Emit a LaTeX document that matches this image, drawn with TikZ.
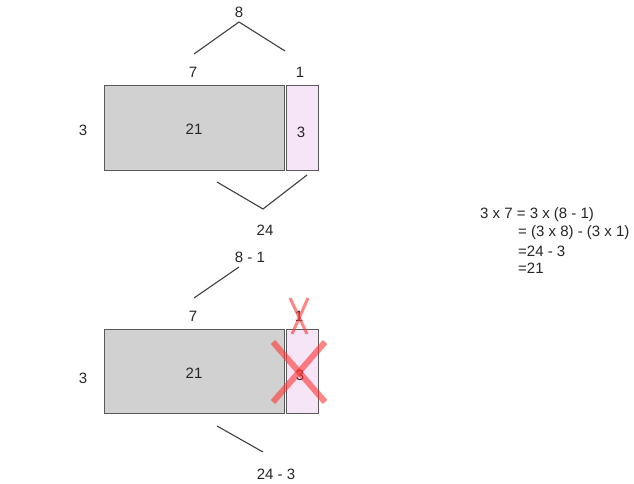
\documentclass[tikz,border=0pt]{standalone}
\usepackage{fontspec}
\setmainfont{Liberation Sans}
\definecolor{pinkfill}{HTML}{F5E5F7}
\begin{document}
\begin{tikzpicture}[x=1pt,y=-1pt,
  lbl/.style={inner sep=0pt, text=black!85, font=\fontsize{15}{17}\selectfont},
  bigbox/.style={draw=black!65, line width=1pt, fill=black!18, minimum width=180pt, minimum height=84pt, inner sep=0pt},
  smallbox/.style={draw=black!65, line width=1pt, fill=pinkfill, minimum width=32pt, minimum height=84pt, inner sep=0pt},
  brace/.style={draw=black!75, line width=1.1pt},
  cross/.style={draw=red!80, opacity=0.6, line width=#1},
]
\useasboundingbox[fill=white] (0,0) rectangle (634,484);

% ---------- top diagram ----------
\node[bigbox] (R1) at (194,128) {};
\node[smallbox] (S1) at (302,128) {};
\node[lbl] (t21a) at (194,129) {21};
\node[lbl] (t3a) at (301,132) {3};
\node[lbl] (l3a) at (83,130) {3};
\node[lbl] (l7a) at (193,72) {7};
\node[lbl] (l1a) at (300,72) {1};
\node[lbl] (l8a) at (239,12) {8};
\node[lbl] (l24a) at (265,230) {24};
\coordinate (a1) at (194,54);
\coordinate (a2) at (239,22);
\coordinate (a3) at (285,51);
\draw[brace] (a1) -- (a2) -- (a3);
\coordinate (b1) at (217,182);
\coordinate (b2) at (263,209);
\coordinate (b3) at (307,175);
\draw[brace] (b1) -- (b2) -- (b3);

% ---------- bottom diagram ----------
\node[bigbox] (R2) at (194,371) {};
\node[smallbox] (S2) at (302,371) {};
\node[lbl] (t21b) at (194,373) {21};
\node[lbl] (t3b) at (300,375) {3};
\node[lbl] (l3b) at (83,378) {3};
\node[lbl] (l7b) at (193,316) {7};
\node[lbl] (l1b) at (299,316) {1};
\node[lbl] (l81) at (250,257) {8 - 1};
\node[lbl] (l243) at (276,474) {24 - 3};
\coordinate (c1) at (239,267);
\coordinate (c2) at (194,298);
\draw[brace] (c1) -- (c2);
\coordinate (d1) at (217,426);
\coordinate (d2) at (263,452);
\draw[brace] (d1) -- (d2);

% red crosses
\coordinate (x1) at (290,298);
\coordinate (x2) at (307,334);
\coordinate (x3) at (308,298);
\coordinate (x4) at (292,334);
\draw[cross=3pt] (x1) -- (x2);
\draw[cross=3pt] (x3) -- (x4);
\coordinate (y1) at (273,342);
\coordinate (y2) at (325,402);
\coordinate (y3) at (325,342);
\coordinate (y4) at (273,402);
\draw[cross=6pt] (y1) -- (y2);
\draw[cross=6pt] (y3) -- (y4);

% ---------- equations ----------
\node[lbl, anchor=west] (e1) at (480,215) {3 x 7 = 3 x (8 - 1)};
\node[lbl, anchor=west] (e2) at (518,233) {= (3 x 8) - (3 x 1)};
\node[lbl, anchor=west] (e3) at (518,251) {=24 - 3};
\node[lbl, anchor=west] (e4) at (518,268) {=21};
\end{tikzpicture}
\end{document}
